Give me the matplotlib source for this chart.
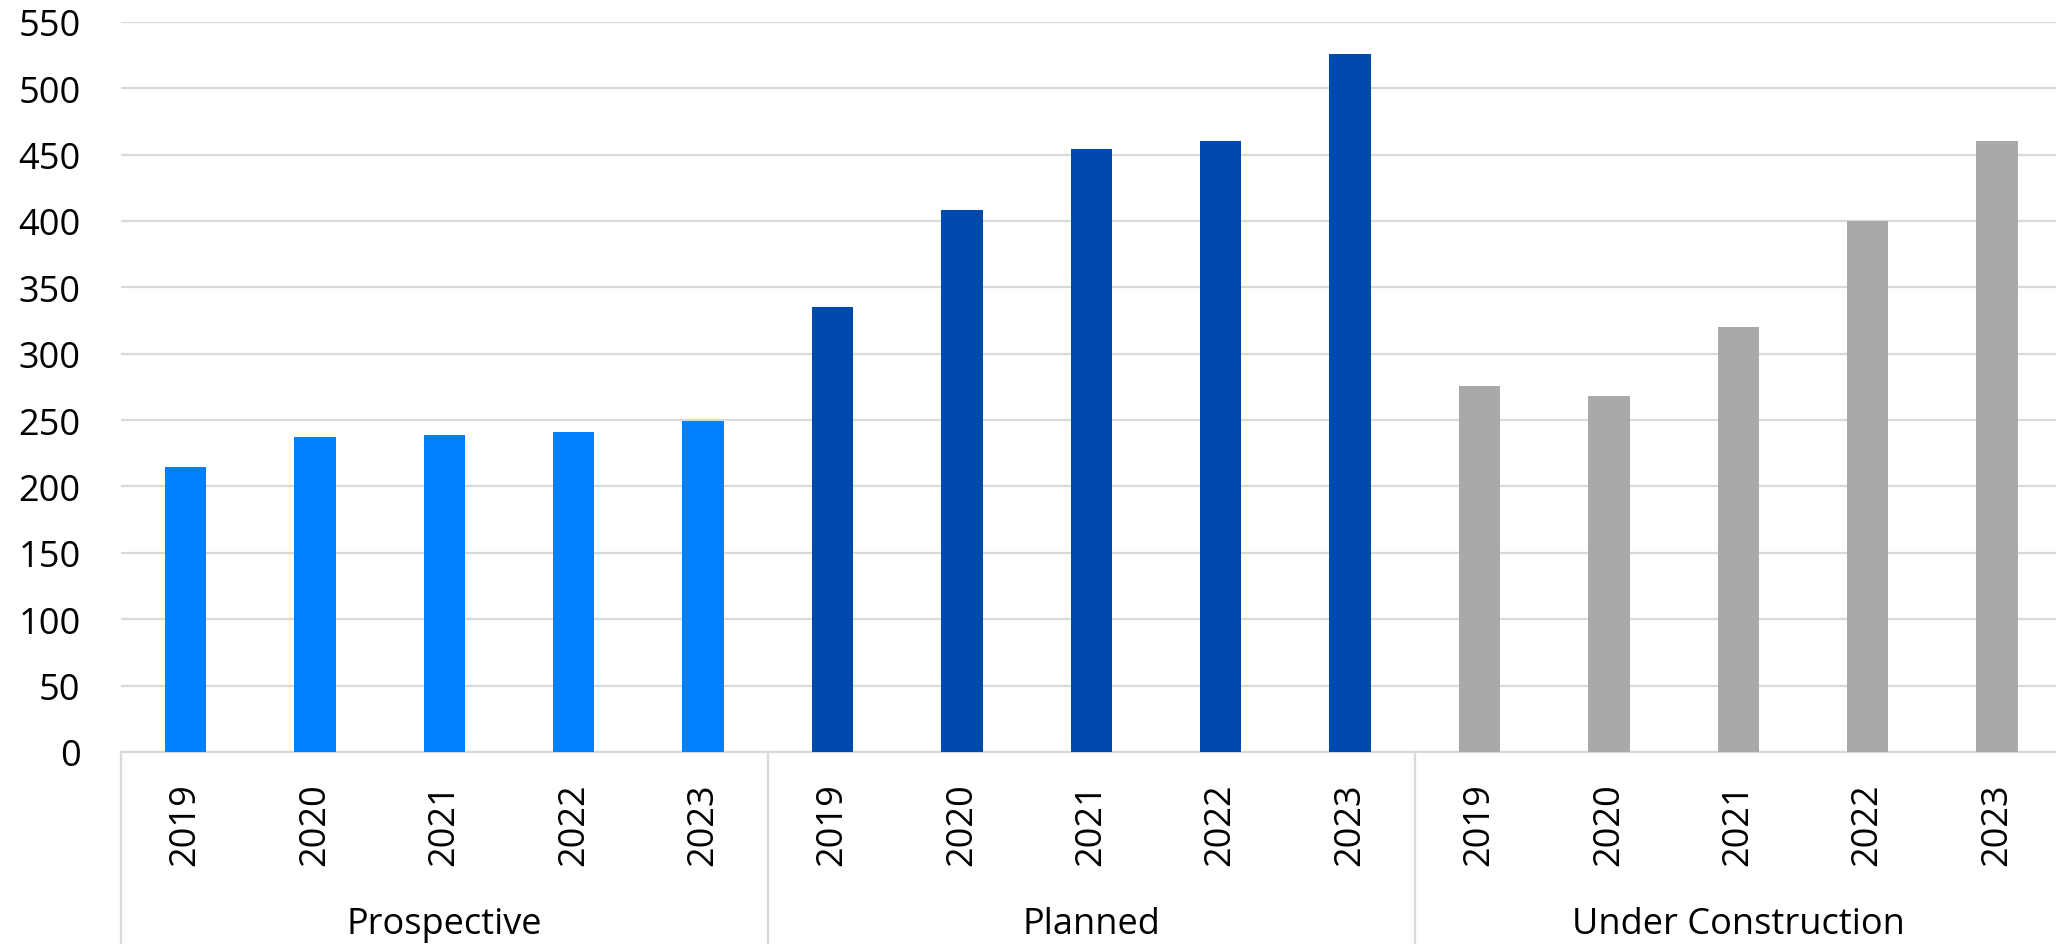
import matplotlib.pyplot as plt
import matplotlib.transforms as mtransforms

# data
groups = ['Prospective', 'Planned', 'Under Construction']
years = ['2019', '2020', '2021', '2022', '2023']
prospective = [215, 237, 239, 241, 249]
planned = [335, 408, 454, 460, 526]
under_construction = [276, 268, 320, 400, 460]
colors = ['#0080FF', '#004AAD', '#A9A9A9']

plt.rcParams['font.family'] = ['Open Sans', 'DejaVu Sans']

fig = plt.figure(figsize=(20.56, 9.45), dpi=100)
ax = fig.add_axes([0.0588, 0.2033, 0.944, 0.7725])

series = [prospective, planned, under_construction]
xlabels = []
for g, vals in enumerate(series):
    xs = [g * len(years) + i for i in range(len(years))]
    ax.bar(xs, vals, width=0.32, color=colors[g], zorder=3)
    xlabels += years

ax.set_xlim(-0.5, len(xlabels) - 0.5)
ax.set_ylim(0, 550)
ax.set_yticks(range(0, 551, 50))
ax.set_xticks(range(len(xlabels)))
ax.set_xticklabels(xlabels, rotation=90)
ax.tick_params(axis='x', length=0, pad=22, labelsize=26)
ax.tick_params(axis='y', length=0, pad=29, labelsize=26)
ax.grid(axis='y', color='#d9d9d9', linewidth=1.6, zorder=0)
for s in ['top', 'right', 'left']:
    ax.spines[s].set_visible(False)
ax.spines['bottom'].set_color('#d9d9d9')
ax.spines['bottom'].set_linewidth(1.6)

trans = mtransforms.blended_transform_factory(ax.transData, ax.transAxes)
for g, name in enumerate(groups):
    x0 = g * len(years) - 0.5
    ax.plot([x0, x0], [0, -0.3], color='#d9d9d9', linewidth=1.6,
            transform=trans, clip_on=False)
    ax.text(x0 + len(years) / 2, -0.236, name, transform=trans,
            ha='center', va='center', fontsize=26)

fig.savefig('out.png', dpi=100)
